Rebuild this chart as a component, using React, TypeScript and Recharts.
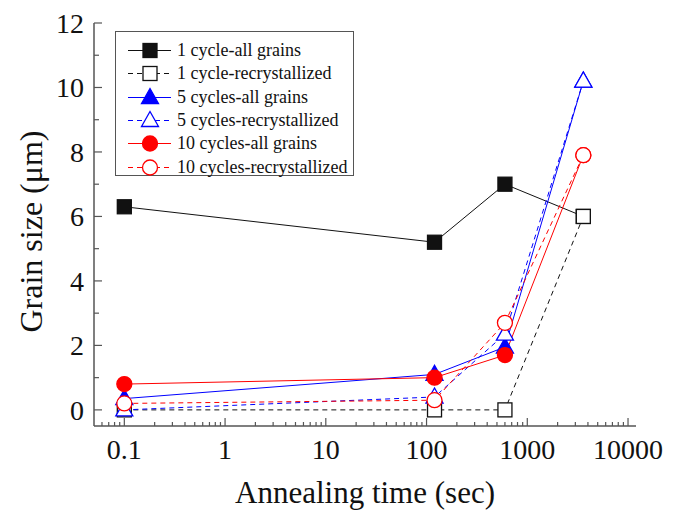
import { LineChart, Line, XAxis, YAxis, Label } from 'recharts';

// annealing times (sec)
const times = [0.1, 120, 600, 3600];

// grain size (um)
const cycle1All = [6.3, 5.2, 7.0, 6.0];
const cycle1Rec = [0, 0, 0, 6.0];
const cycle5All = [0.35, 1.1, 1.95, 10.2];
const cycle5Rec = [0, 0.4, 2.35, 10.2];
const cycle10All = [0.8, 1.0, 1.7, 7.9];
const cycle10Rec = [0.2, 0.3, 2.7, 7.9];

const xMajor = [0.1, 1, 10, 100, 1000, 10000];
const xMinor = [
  0.06, 0.07, 0.08, 0.09,
  0.2, 0.3, 0.4, 0.5, 0.6, 0.7, 0.8, 0.9,
  2, 3, 4, 5, 6, 7, 8, 9,
  20, 30, 40, 50, 60, 70, 80, 90,
  200, 300, 400, 500, 600, 700, 800, 900,
  2000, 3000, 4000, 5000, 6000, 7000, 8000, 9000,
];
const yTicks = [0, 1, 2, 3, 4, 5, 6, 7, 8, 9, 10, 11, 12];

const data = times.map((t, i) => ({
  t,
  c1All: cycle1All[i],
  c1Rec: cycle1Rec[i],
  c5All: cycle5All[i],
  c5Rec: cycle5Rec[i],
  c10All: cycle10All[i],
  c10Rec: cycle10Rec[i],
}));

type Shape = 'square' | 'triangle' | 'circle';

const series: { key: string; name: string; color: string; dashed: boolean; shape: Shape; filled: boolean }[] = [
  { key: 'c1All', name: '1 cycle-all grains', color: '#111', dashed: false, shape: 'square', filled: true },
  { key: 'c1Rec', name: '1 cycle-recrystallized', color: '#111', dashed: true, shape: 'square', filled: false },
  { key: 'c5All', name: '5 cycles-all grains', color: '#0000ff', dashed: false, shape: 'triangle', filled: true },
  { key: 'c5Rec', name: '5 cycles-recrystallized', color: '#0000ff', dashed: true, shape: 'triangle', filled: false },
  { key: 'c10All', name: '10 cycles-all grains', color: '#ff0000', dashed: false, shape: 'circle', filled: true },
  { key: 'c10Rec', name: '10 cycles-recrystallized', color: '#ff0000', dashed: true, shape: 'circle', filled: false },
];

const FONT = '"Liberation Serif", "Times New Roman", serif';
const AXIS = '#555';

function Marker({ cx, cy, shape, color, filled }: { cx: number; cy: number; shape: Shape; color: string; filled: boolean }) {
  const fill = filled ? color : '#fff';
  const sw = 1.3;
  if (shape === 'square') {
    return <rect x={cx - 7} y={cy - 7} width={14} height={14} fill={fill} stroke={color} strokeWidth={sw} />;
  }
  if (shape === 'triangle') {
    const pts = `${cx},${cy - 9} ${cx - 8.5},${cy + 6} ${cx + 8.5},${cy + 6}`;
    return <polygon points={pts} fill={fill} stroke={color} strokeWidth={sw} />;
  }
  return <circle cx={cx} cy={cy} r={7.5} fill={fill} stroke={color} strokeWidth={sw} />;
}

const XTick = (props: any) => {
  const { x, y, payload } = props;
  const major = xMajor.includes(payload.value);
  return (
    <g>
      <line x1={x} x2={x} y1={y} y2={y - (major ? 8 : 4)} stroke={AXIS} strokeWidth={1.2} />
      {major && (
        <text x={x} y={y + 23} dy="0.35em" textAnchor="middle" fontSize={28} fontFamily={FONT} fill="#111">
          {payload.value}
        </text>
      )}
    </g>
  );
};

const YTick = (props: any) => {
  const { x, y, payload } = props;
  const major = payload.value % 2 === 0;
  return (
    <g>
      <line x1={x} x2={x + (major ? 8 : 5)} y1={y} y2={y} stroke={AXIS} strokeWidth={1.2} />
      {major && (
        <text x={x - 10} y={y} dy="0.35em" textAnchor="end" fontSize={28} fontFamily={FONT} fill="#111">
          {payload.value}
        </text>
      )}
    </g>
  );
};

function LegendBox() {
  return (
    <div
      style={{
        position: 'absolute',
        left: 115,
        top: 31,
        width: 239,
        height: 145,
        border: `1px solid ${AXIS}`,
        background: '#fff',
        boxSizing: 'border-box',
        paddingTop: 7,
        fontFamily: FONT,
        fontSize: 18,
        color: '#111',
      }}
    >
      {series.map((s) => (
        <div key={s.key} style={{ display: 'flex', alignItems: 'center', height: 23.3 }}>
          <svg width={60} height={23} style={{ flex: 'none' }}>
            <line x1={12} x2={55} y1={11.5} y2={11.5} stroke={s.color} strokeWidth={1} strokeDasharray={s.dashed ? '5 4' : undefined} />
            <Marker cx={34} cy={11.5} shape={s.shape} color={s.color} filled={s.filled} />
          </svg>
          <span style={{ whiteSpace: 'nowrap', marginLeft: 1 }}>{s.name}</span>
        </div>
      ))}
    </div>
  );
}

export default function App() {
  return (
    <div style={{ position: 'absolute', left: 0, top: 0, width: 675, height: 519, background: '#fff' }}>
      <LineChart width={675} height={519} data={data} margin={{ top: 23, right: 39, bottom: 0, left: 0 }}>
        <XAxis
          dataKey="t"
          type="number"
          scale="log"
          domain={[0.05, 12000]}
          allowDataOverflow
          ticks={[...xMinor, ...xMajor]}
          interval={0}
          height={93}
          tickSize={0}
          tickMargin={0}
          tick={XTick}
          axisLine={{ stroke: AXIS, strokeWidth: 1.5 }}
        >
          <Label
            value="Annealing time (sec)"
            position="insideBottom"
            offset={16}
            style={{ fontFamily: FONT, fontSize: 31, fill: '#111' }}
          />
        </XAxis>
        <XAxis
          xAxisId="top"
          dataKey="t"
          type="number"
          scale="log"
          domain={[0.05, 12000]}
          allowDataOverflow
          orientation="top"
          height={0}
          tick={false}
          tickLine={false}
          axisLine={{ stroke: AXIS, strokeWidth: 1.5 }}
        />
        <YAxis
          type="number"
          domain={[-0.5, 12]}
          allowDataOverflow
          ticks={yTicks}
          interval={0}
          width={94}
          tickSize={0}
          tickMargin={0}
          tick={YTick}
          axisLine={{ stroke: AXIS, strokeWidth: 1.5 }}
        >
          <Label
            content={(p: any) => {
              const vb = p.viewBox;
              const cy = vb.y + vb.height / 2 + 7;
              return (
                <text
                  x={42}
                  y={cy}
                  transform={`rotate(-90 42 ${cy})`}
                  textAnchor="middle"
                  fontSize={32}
                  fontFamily={FONT}
                  fill="#111"
                >
                  Grain size (μm)
                </text>
              );
            }}
          />
        </YAxis>
        <YAxis
          yAxisId="right"
          orientation="right"
          type="number"
          domain={[-0.5, 12]}
          width={0}
          tick={false}
          tickLine={false}
          axisLine={{ stroke: AXIS, strokeWidth: 1.5 }}
        />
        {series.map((s) => (
          <Line
            key={s.key}
            type="linear"
            dataKey={s.key}
            name={s.name}
            stroke={s.color}
            strokeWidth={1}
            strokeDasharray={s.dashed ? '5 4' : undefined}
            isAnimationActive={false}
            dot={(p: any) => (
              <Marker key={`${s.key}-${p.index}`} cx={p.cx} cy={p.cy} shape={s.shape} color={s.color} filled={s.filled} />
            )}
            activeDot={false}
          />
        ))}
      </LineChart>
      <LegendBox />
    </div>
  );
}
